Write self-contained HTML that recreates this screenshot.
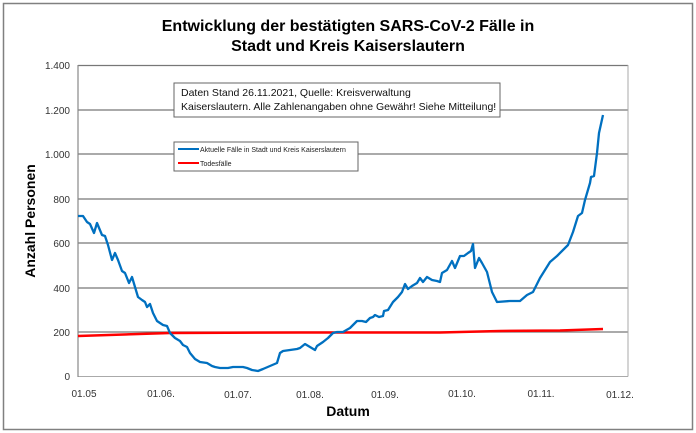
<!DOCTYPE html>
<html><head><meta charset="utf-8"><style>
html,body{margin:0;padding:0;background:#fff;}
svg{display:block;font-family:"Liberation Sans",sans-serif;}
</style></head><body>
<svg width="696" height="433" viewBox="0 0 696 433">
<rect x="3.5" y="3.5" width="689" height="426" fill="#fff" stroke="#808080" stroke-width="1.5"/>
<text x="348" y="31" text-anchor="middle" font-size="16" font-weight="bold">Entwicklung der bestätigten SARS-CoV-2 Fälle in</text>
<text x="348" y="51" text-anchor="middle" font-size="16" font-weight="bold">Stadt und Kreis Kaiserslautern</text>
<g stroke="#777" stroke-width="1.2">
<line x1="78" y1="65.5" x2="628" y2="65.5"/>
<line x1="78" y1="110" x2="628" y2="110"/>
<line x1="78" y1="154" x2="628" y2="154"/>
<line x1="78" y1="199" x2="628" y2="199"/>
<line x1="78" y1="243" x2="628" y2="243"/>
<line x1="78" y1="288" x2="628" y2="288"/>
<line x1="78" y1="332" x2="628" y2="332"/>
</g>
<line x1="78" y1="376.5" x2="628" y2="376.5" stroke="#aaa"/>
<line x1="628" y1="65" x2="628" y2="376.5" stroke="#aaa"/>
<line x1="78" y1="65" x2="78" y2="377" stroke="#888" stroke-width="1.2"/>
<g font-size="10" fill="#333" text-anchor="end">
<text x="70" y="69">1.400</text><text x="70" y="114">1.200</text><text x="70" y="158">1.000</text>
<text x="70" y="203">800</text><text x="70" y="247">600</text><text x="70" y="292">400</text>
<text x="70" y="336">200</text><text x="70" y="380">0</text>
</g>
<g font-size="10" fill="#333" text-anchor="middle">
<text x="84" y="397">01.05</text><text x="161" y="397">01.06.</text><text x="238" y="398">01.07.</text>
<text x="310" y="398">01.08.</text><text x="385" y="398">01.09.</text><text x="462" y="397">01.10.</text>
<text x="541" y="397">01.11.</text><text x="620" y="398">01.12.</text>
</g>
<text x="348" y="416" text-anchor="middle" font-size="14" font-weight="bold">Datum</text>
<text transform="translate(35,221) rotate(-90)" text-anchor="middle" font-size="14" font-weight="bold">Anzahl Personen</text>
<polyline fill="none" stroke="#ff0000" stroke-width="2.5" points="78,336 170,333 300,332.5 440,332.5 500,331 560,330.5 603,329"/>
<polyline fill="none" stroke="#0070c0" stroke-width="2.3" stroke-linejoin="round" points="78,216 83,216 87,222 90,224 94,233 97,223 102,235 105,236 108,245 112,260 115,253 118,260 122,271 125,273 129,283 132,277 135,287 138,297 142,300 145,302 147,307 150,304 153,313 157,321 163,325 167,326 170,333 175,338 180,341 183,345 187,347 190,353 195,359 200,362 207,363 212,366 215,367 220,368 228,368 233,367 243,367 247,368 252,370 258,371 263,369 270,366 277,363 280,353 283,351 290,350 297,349 300,348 305,344 310,347 315,350 317,346 323,342 328,338 333,333 337,332 343,332 350,328 357,321 362,321 366,322 370,318 373,317 375,315 379,317 383,316 384,311 388,310 393,302 398,297 402,292 405,284 408,289 412,286 417,283 420,278 423,282 427,277 432,280 437,281 440,282 442,273 447,270 452,261 455,268 460,256 464,256 468,253 471,251 473,244 475,268 479,258 482,263 487,272 492,292 497,302 510,301 520,301 527,295 533,292 540,278 550,262 557,256 568,245 573,232 578,216 582,213 585,200 590,183 591,177 594,176 597,153 599,133 603,115"/>
<rect x="174" y="83" width="326" height="34" fill="#fff" stroke="#666"/>
<text x="181" y="96" font-size="10.5" fill="#111">Daten Stand 26.11.2021, Quelle: Kreisverwaltung</text>
<text x="181" y="110" font-size="10.5" fill="#111">Kaiserslautern. Alle Zahlenangaben ohne Gewähr! Siehe Mitteilung!</text>
<rect x="174" y="142" width="184" height="29" fill="#fff" stroke="#666"/>
<line x1="178" y1="149" x2="199" y2="149" stroke="#0070c0" stroke-width="2"/>
<text x="200" y="152" font-size="7" fill="#222">Aktuelle Fälle in Stadt und Kreis Kaiserslautern</text>
<line x1="178" y1="163" x2="199" y2="163" stroke="#ff0000" stroke-width="2"/>
<text x="200" y="166" font-size="7" fill="#222">Todesfälle</text>
</svg>
</body></html>
